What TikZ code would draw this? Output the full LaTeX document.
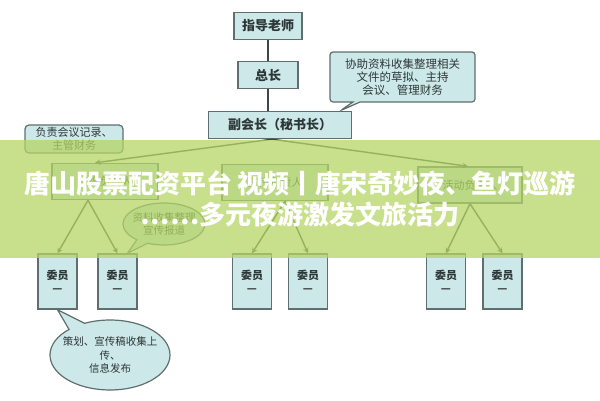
\documentclass[tikz,border=0pt]{standalone}
\usepackage{fontspec}
\setmainfont{Noto Sans CJK SC}
\usetikzlibrary{calc, shapes.geometric, shapes.callouts, arrows}
\definecolor{boxfill}{RGB}{205, 232, 232}
\definecolor{boxline}{RGB}{95, 110, 110}
\definecolor{lineGray}{RGB}{60, 72, 68}
\definecolor{textGray}{RGB}{45, 55, 55}
\definecolor{bannerGreen}{RGB}{181, 213, 101}
\tikzstyle{orgBox} = [shape=rectangle, draw=boxline, fill=boxfill, text=textGray,
	line width=1.4pt, align=center, inner sep=2pt]
\tikzstyle{TopBox} = [orgBox, minimum height=27pt, font=\bfseries\fontsize{13}{15}\selectfont]
\tikzstyle{GroupBox} = [orgBox, minimum width=106pt, minimum height=36pt,
	font=\fontsize{11}{13}\selectfont]
\tikzstyle{MemberBox} = [orgBox, minimum width=39pt, minimum height=55pt,
	font=\bfseries\fontsize{11}{13}\selectfont]
\tikzstyle{noteBox} = [rectangle callout, draw=boxline, fill=boxfill, text=textGray,
	line width=1.2pt, rounded corners=3pt, align=center, inner sep=2pt,
	font=\fontsize{11.5}{13}\selectfont]
\tikzstyle{noteOval} = [ellipse callout, draw=boxline, fill=boxfill, text=textGray,
	line width=1.2pt, align=center, inner xsep=-6pt, inner ysep=0pt,
	callout pointer arc=18, font=\fontsize{10.5}{13.5}\selectfont]
\tikzstyle{orgArrow} = [line width=1.4pt, ->, >=stealth, draw=lineGray]
\tikzstyle{orgLine} = [line width=1.4pt, draw=lineGray]
\tikzstyle{bannerText} = [text=white, align=center,
	font=\bfseries\fontsize{26}{31}\selectfont]

\begin{document}
\begin{tikzpicture}[x=1pt, y=-1pt, node distance=49pt]
  \useasboundingbox (0,0) rectangle (600,400);

  \node (TEACH) [TopBox, minimum width=68pt] at (268,26) {指导老师};
  \node (HEAD)  [TopBox, minimum width=60pt, below of=TEACH] {总长};
  \node (VICE)  [TopBox, minimum width=143pt, below of=HEAD, xshift=12pt, yshift=-1pt] {副会长（秘书长）};

  \node (MGRP) [GroupBox, below of=VICE, xshift=-5pt, yshift=-8.5pt] {宣传负责人};
  \node (LGRP) [GroupBox, left of=MGRP, node distance=170pt, yshift=1pt] {组织负责人};
  \node (RGRP) [GroupBox, right of=MGRP, node distance=195pt, yshift=-2.5pt, minimum width=104pt] {活动负责人};

  \node (M1) [MemberBox, below of=LGRP, node distance=100pt, xshift=-47.5pt] {委员\\—};
  \node (M2) [MemberBox, right of=M1, node distance=60pt] {委员\\—};
  \node (M3) [MemberBox, right of=M2, node distance=134.5pt] {委员\\—};
  \node (M4) [MemberBox, right of=M3, node distance=56pt] {委员\\—};
  \node (M5) [MemberBox, right of=M4, node distance=138pt] {委员\\—};
  \node (M6) [MemberBox, right of=M5, node distance=56.5pt] {委员\\—};

  \draw [orgLine] (TEACH) -- (HEAD);
  \draw [orgLine] (HEAD.south) -- (HEAD.south |- VICE.north);
  \draw [orgLine] ($(VICE.south)+(-8,0)$) -- ($(VICE.south)+(-8,0)$ |- MGRP.north);
  \draw [orgArrow] ($(VICE.south)+(-8,0)$) -- ($(LGRP.north)+(-10,0)$);
  \draw [orgArrow] ($(VICE.south)+(-8,0)$) -- ($(RGRP.north)+(-2,0)$);

  \draw [orgArrow] ($(LGRP.south)+(-17,0)$) -- (M1.north);
  \draw [orgArrow] ($(LGRP.south)+(-17,0)$) -- (M2.north);
  \draw [orgArrow] ($(MGRP.south)+(10,0)$) -- (M3.north);
  \draw [orgArrow] ($(MGRP.south)+(10,0)$) -- (M4.north);
  \draw [orgArrow] (RGRP.south) -- (M5.north);
  \draw [orgArrow] (RGRP.south) -- (M6.north);

  \node (NOTEV) [noteBox, right of=HEAD, node distance=134.5pt, yshift=-2pt,
    minimum width=145pt, minimum height=50pt,
    callout absolute pointer={($(VICE.north east)+(-12,0)$)}]
    {协助资料收集整理相关\\文件的草拟、主持\\会议、管理财务};
  \node (NOTEL) [orgBox, rounded corners=4pt, line width=1.2pt, left of=VICE,
    node distance=206pt, yshift=-14pt, minimum width=98pt, minimum height=28pt,
    font=\fontsize{11}{13}\selectfont] {负责会议记录、\\主管财务};
  \node (NOTEM) [noteOval, right of=LGRP, node distance=59pt, yshift=-42.5pt,
    minimum width=82pt, minimum height=42pt,
    callout absolute pointer={($(M2.north)+(10,0)$)}] {资料收集整理\\宣传报道};
  \node (NOTEB) [noteOval, below of=M2, node distance=73.5pt, xshift=-7.5pt,
    minimum width=120pt, minimum height=70pt,
    callout absolute pointer={(M1.south)}] {策划、宣传稿收集上\\传、\\信息发布};

  % banner
  \fill [bannerGreen, opacity=.75] (0,140) rectangle (600,258);
  \node (TITLE) [bannerText] at (300,199)
    {唐山股票配资平台 视频丨唐宋奇妙夜、鱼灯巡游\\……多元夜游激发文旅活力};

\end{tikzpicture}
\end{document}
